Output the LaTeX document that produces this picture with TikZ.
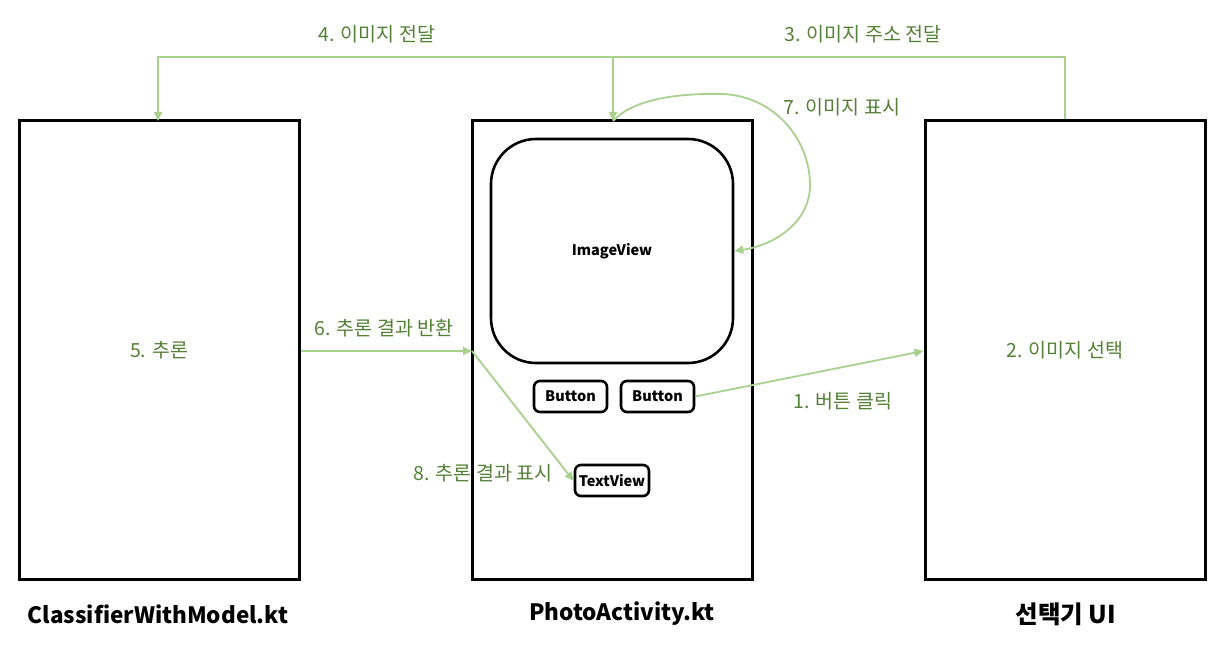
\documentclass[tikz,border=0pt]{standalone}
\usepackage{fontspec}
\setmainfont{Noto Sans CJK KR}
\usetikzlibrary{arrows.meta}
\definecolor{lg}{HTML}{A9D18E}
\definecolor{dg}{HTML}{538135}
\begin{document}
\begin{tikzpicture}[x=1pt,y=-1pt,
  panel/.style={draw=black,line width=3pt,minimum width=280pt,minimum height=458pt,inner sep=0pt},
  widget/.style={draw=black,line width=2.6pt,rounded corners=6pt,inner sep=0pt,font=\fontsize{14.5}{17}\selectfont\bfseries},
  conn/.style={draw=lg,line width=1.8pt,-{Triangle[length=9pt,width=8pt]}},
  plain/.style={draw=lg,line width=1.8pt},
  lbl/.style={text=dg,font=\fontsize{19.5}{22}\selectfont,inner sep=0pt},
  title/.style={font=\fontsize{22.5}{26}\selectfont\bfseries,inner sep=0pt}]
\useasboundingbox (0,0) rectangle (1226,652);
\fill[white] (0,0) rectangle (1226,652);
% panels
\node[panel] (cls) at (159,350) {};
\node[panel] (photo) at (612,350) {};
\node[panel] (pick) at (1065,350) {};
% widgets
\node[widget,rounded corners=45pt,minimum width=242pt,minimum height=224pt] (img) at (612,251) {ImageView};
\node[widget,minimum width=73pt,minimum height=31pt] (btnA) at (570.5,396.5) {Button};
\node[widget,minimum width=73pt,minimum height=31pt] (btnB) at (657.5,396.5) {Button};
\node[widget,minimum width=74pt,minimum height=31pt] (tv) at (612,480.5) {TextView};
% coordinates
\coordinate (j3) at (1065,57);
\coordinate (jm) at (613,57);
\coordinate (j4) at (158,57);
\coordinate (ptop) at (613,121);
\coordinate (ctop) at (158,121);
\coordinate (in6) at (472,351);
% connectors
\draw[plain] (pick.north -| j3) -- (j3) -- (jm);
\draw[conn] (jm) -- (ptop);
\draw[conn] (jm) -- (j4) -- (ctop);
\draw[conn] (ptop) .. controls (632,100) and (675,93) .. (722,94)
  .. controls (775,96) and (810,140) .. (810,185)
  .. controls (810,222) and (775,245) .. (img.east |- 0,251);
\draw[conn] (cls.east |- in6) -- (in6);
\draw[conn] (in6) -- (tv.west |- 0,481);
\draw[conn] (btnB.east) -- (pick.west |- 0,351);
% labels
\node[lbl] (l4) at (377,34) {4. 이미지 전달};
\node[lbl] (l3) at (863,34) {3. 이미지 주소 전달};
\node[lbl] (l7) at (842,107) {7. 이미지 표시};
\node[lbl] (l5) at (cls.center) {5. 추론};
\node[lbl] (l2) at (pick.center) {2. 이미지 선택};
\node[lbl] (l6) at (384,328) {6. 추론 결과 반환};
\node[lbl] (l8) at (483,473) {8. 추론 결과 표시};
\node[lbl] (l1) at (843,401) {1. 버튼 클릭};
\node[title] (t1) at (158,614) {ClassifierWithModel.kt};
\node[title] (t2) at (622,614) {PhotoActivity.kt};
\node[title,font=\fontsize{24.5}{28}\selectfont\bfseries] (t3) at (1066,614) {선택기 UI};
\end{tikzpicture}
\end{document}
